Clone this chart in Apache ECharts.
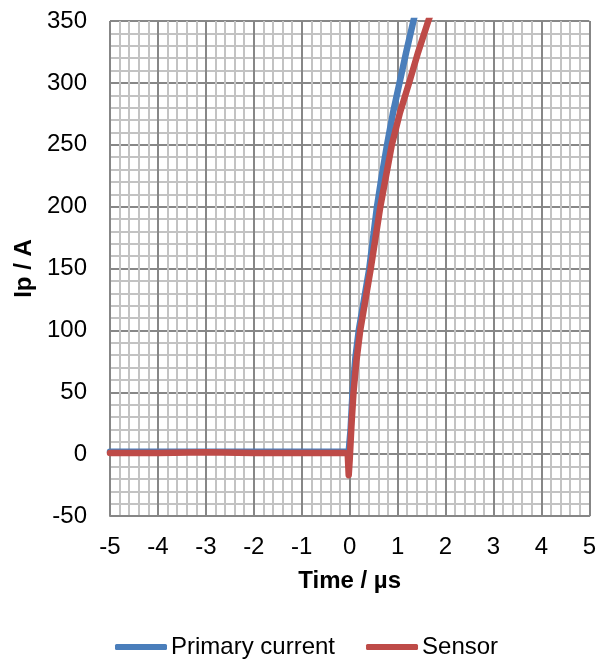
<!DOCTYPE html>
<html>
<head>
<meta charset="utf-8">
<script src="https://cdn.jsdelivr.net/npm/echarts@6/dist/echarts.min.js"></script>
<style>
  html, body { margin: 0; padding: 0; background: #fff; }
  #chart { width: 599px; height: 660px; }
</style>
</head>
<body>
<div id="chart"></div>
<script>
// time in µs, current in A
var primaryTime = [-5, -4, -3, -2, -1, -0.5, -0.02, 0.02, 0.06, 0.12, 0.19, 0.3, 0.41, 0.49, 0.57, 0.67, 0.78, 0.9, 1.04, 1.18, 1.33, 1.42]
var primaryCurrent = [2, 2, 2, 2, 2, 2, 2, 20, 50, 78, 100, 125, 150, 175, 200, 225, 250, 275, 300, 325, 350, 364]
var sensorTime = [-5, -4, -3, -2, -1, -0.5, -0.1, -0.04, -0.02, 0, 0.04, 0.08, 0.14, 0.22, 0.33, 0.44, 0.54, 0.64, 0.76, 0.88, 1.05, 1.24, 1.43, 1.64, 1.75]
var sensorCurrent = [1, 1, 1.5, 1, 1, 1, 1, 0, -17, -5, 25, 50, 75, 100, 125, 150, 175, 200, 225, 250, 276, 300, 325, 350, 362]
var xTicks = [-5, 5, 1]
var yTicks = [-50, 350, 50]

function pairs(xs, ys) {
    var out = []
    for (var i = 0; i < xs.length; i++) out.push([xs[i], ys[i]])
    return out
}

var chart = echarts.init(document.getElementById('chart'))
var font = '"Liberation Sans", Arial, sans-serif'
var option = {
    animation: false,
    textStyle: { fontFamily: font },
    grid: { left: 110, right: 8, top: 21, bottom: 144 },
    legend: {
        left: 110,
        top: 630,
        icon: 'roundRect',
        itemWidth: 52,
        itemHeight: 6,
        itemGap: 31,
        textStyle: { fontSize: 24, color: '#000', fontFamily: font, padding: [0, 0, 0, -1] },
        data: ['Primary current', 'Sensor']
    },
    xAxis: {
        type: 'value',
        min: xTicks[0], max: xTicks[1], interval: xTicks[2],
        name: 'Time / µs',
        nameLocation: 'middle',
        nameGap: 53,
        nameTextStyle: { fontSize: 24, fontWeight: 'bold', color: '#000' },
        axisLine: { show: true, onZero: false, lineStyle: { color: '#868686', width: 2 } },
        axisTick: { show: false },
        axisLabel: { fontSize: 24, color: '#000', margin: 19 },
        splitLine: { show: true, lineStyle: { color: '#878787', width: 2 } },
        minorTick: { show: false, splitNumber: 5 },
        minorSplitLine: { show: true, lineStyle: { color: '#c3c3c3', width: 2 } }
    },
    yAxis: {
        type: 'value',
        min: yTicks[0], max: yTicks[1], interval: yTicks[2],
        name: 'Ip / A',
        nameLocation: 'middle',
        nameGap: 73,
        nameTextStyle: { fontSize: 24, fontWeight: 'bold', color: '#000' },
        axisLine: { show: true, lineStyle: { color: '#868686', width: 2 } },
        axisTick: { show: false },
        axisLabel: { fontSize: 24, color: '#000', margin: 23 },
        splitLine: { show: true, lineStyle: { color: '#878787', width: 2 } },
        minorTick: { show: false, splitNumber: 5 },
        minorSplitLine: { show: true, lineStyle: { color: '#c3c3c3', width: 2 } }
    },
    series: [{
        name: 'Primary current',
        type: 'line',
        showSymbol: false,
        symbol: 'none',
        color: '#4a7ebb',
        lineStyle: { color: '#4a7ebb', width: 6.5, cap: 'round', join: 'round' },
        data: pairs(primaryTime, primaryCurrent)
    }, {
        name: 'Sensor',
        type: 'line',
        showSymbol: false,
        symbol: 'none',
        color: '#be4b48',
        lineStyle: { color: '#be4b48', width: 6.5, cap: 'round', join: 'round' },
        data: pairs(sensorTime, sensorCurrent)
    }]
}
chart.setOption(option)
</script>
</body>
</html>
